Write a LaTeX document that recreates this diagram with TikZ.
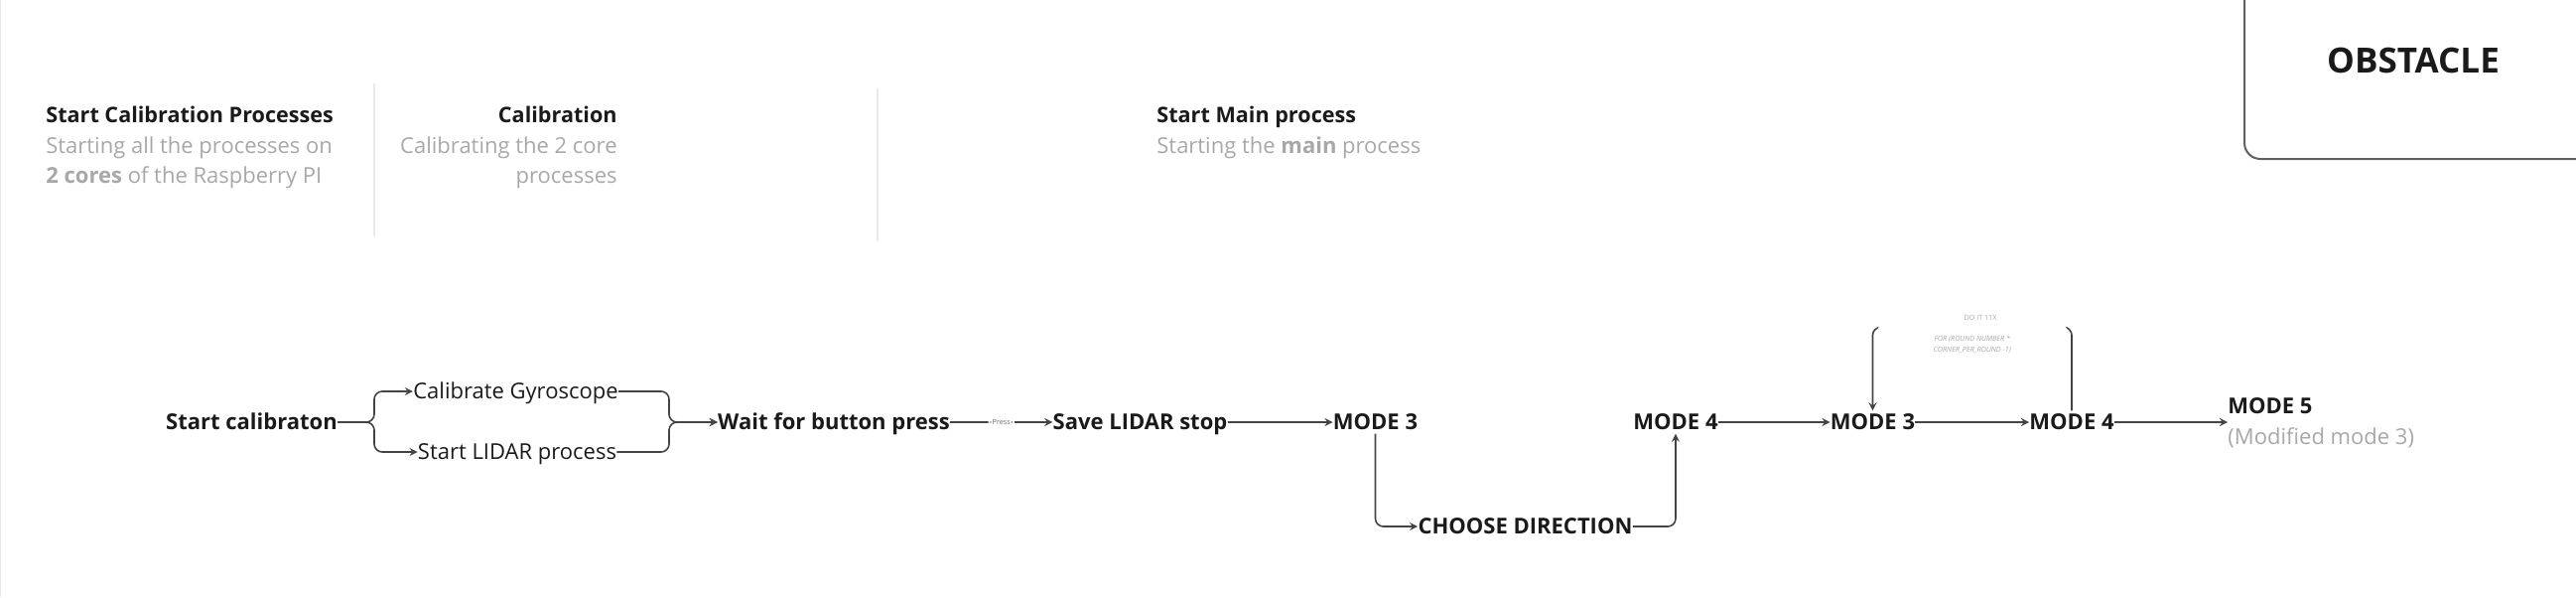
\documentclass[tikz,border=0pt]{standalone}
\usepackage{fontspec}
\setmainfont{Open Sans}
\usetikzlibrary{arrows, positioning}

\definecolor{inkdark}{HTML}{1A1A1A}
\definecolor{inkgray}{HTML}{A8A8A8}
\definecolor{linegray}{HTML}{444444}
\definecolor{framegray}{HTML}{EAEAEA}

\begin{document}
\begin{tikzpicture}[
    x=0.5pt, y=-0.5pt,
    >=stealth,
    on grid,
    every node/.style={inner sep=0pt, text=inkdark},
    stage/.style={font=\fontsize{11}{13}\selectfont\bfseries, text height=9.5pt, text depth=1.7pt},
    task/.style={font=\fontsize{11}{13}\selectfont, text height=9.5pt, text depth=1.7pt},
    headtitle/.style={font=\fontsize{10.8}{15}\selectfont\bfseries},
    blurb/.style={font=\fontsize{11}{15}\selectfont, text=inkgray},
    flow/.style={->, draw=linegray, line width=0.8pt, rounded corners=4pt},
    pressnote/.style={fill=white, inner xsep=2pt, font=\fontsize{3.6}{4}\selectfont, text=linegray!80},
    loopnote/.style={fill=white, anchor=north, yshift=2pt, inner ysep=6pt, minimum width=96pt,
        align=center, font=\fontsize{3.6}{5.3}\selectfont\itshape, text=inkgray},
    tinynote/.style={font=\fontsize{3.6}{5.3}\selectfont, text=inkgray},
    divider/.style={draw=framegray, line width=0.6pt},
]

    \useasboundingbox (0,0) rectangle (2595,601);

    % frame lines
    \draw[divider] (0.5,0) -- (0.5,601);
    \draw[divider] (377,84) -- (377,238);
    \draw[divider] (884,89) -- (884,243);

    % headers
    \node[headtitle, anchor=base west] (hdcal) at (46,123) {Start Calibration Processes};
    \node[blurb, anchor=base west, align=left] (hdcaltext) at (46,184)
        {Starting all the processes on\\\textbf{2 cores} of the Raspberry PI};
    \node[headtitle, anchor=base east] (hdcalib) at (622,123) {Calibration};
    \node[blurb, anchor=base east, align=right] (hdcalibtext) at (622,184)
        {Calibrating the 2 core\\processes};
    \node[headtitle, anchor=base west] (hdmain) at (1165,123) {Start Main process};
    \node[blurb, anchor=base west] (hdmaintext) at (1165,154) {Starting the \textbf{main} process};

    % obstacle frame
    \draw[draw=linegray!85, line width=1pt, rounded corners=8pt] (2261,-10) -- (2261,160) -- (2610,160);
    \node[font=\fontsize{17.5}{20}\selectfont\bfseries] (obstacle) at (2431,61) {OBSTACLE};

    % flow
    \node[stage] (startcal) at (253.5,425) {Start calibraton};
    \node[task, above right=15.5pt and 133pt of startcal] (gyro) {Calibrate Gyroscope};
    \node[task, below right=15pt and 133.75pt of startcal] (lidar) {Start LIDAR process};
    \node[stage, right=293.25pt of startcal] (wait) {Wait for button press};
    \node[stage, right=154.25pt of wait] (savestop) {Save LIDAR stop};
    \node[stage, right=118.5pt of savestop] (modeA) {MODE 3};
    \node[stage, below right=52.5pt and 75.5pt of modeA] (choose) {CHOOSE DIRECTION};
    \node[stage, right=151.25pt of modeA] (modeB) {MODE 4};
    \node[stage, right=99.25pt of modeB] (modeC) {MODE 3};
    \node[stage, right=100.25pt of modeC] (modeD) {MODE 4};
    \node[anchor=west, align=left, font=\fontsize{11}{15.5}\selectfont\bfseries] (modefive) at (2244,426)
        {MODE 5\\{\mdseries\color{inkgray}(Modified mode 3)}};

    \coordinate (fork) at (377,425);
    \coordinate (join) at (674,425);

    \draw[flow] (startcal.east) -- (fork) |- (gyro.west);
    \draw[flow] (startcal.east) -- (fork) |- (lidar.west);
    \draw[flow] (gyro.east) -| (join) -- (wait.west);
    \draw[flow] (lidar.east) -| (join) -- (wait.west);
    \draw[flow] (wait.east) -- node[pressnote] (press) {Press} (savestop.west);
    \draw[flow] (savestop.east) -- (modeA.west);
    \draw[flow] (modeA.south) |- (choose.west);
    \draw[flow] (choose.east) -| (modeB.south);
    \draw[flow] (modeB.east) -- (modeC.west);
    \draw[flow] (modeC.east) -- (modeD.west);
    \draw[flow] (modeD.east) -- (modefive.west |- modeD.east);

    % loop back
    \draw[flow] (modeD.north) -- ++(0,-84) -|
        node[pos=0.25, loopnote] (looptext) {FOR (ROUND NUMBER *\\CORNER\_PER\_ROUND -1)} (modeC.north);
    \node[tinynote] (repeat) at (1995,320) {DO IT 11X};
\end{tikzpicture}
\end{document}
